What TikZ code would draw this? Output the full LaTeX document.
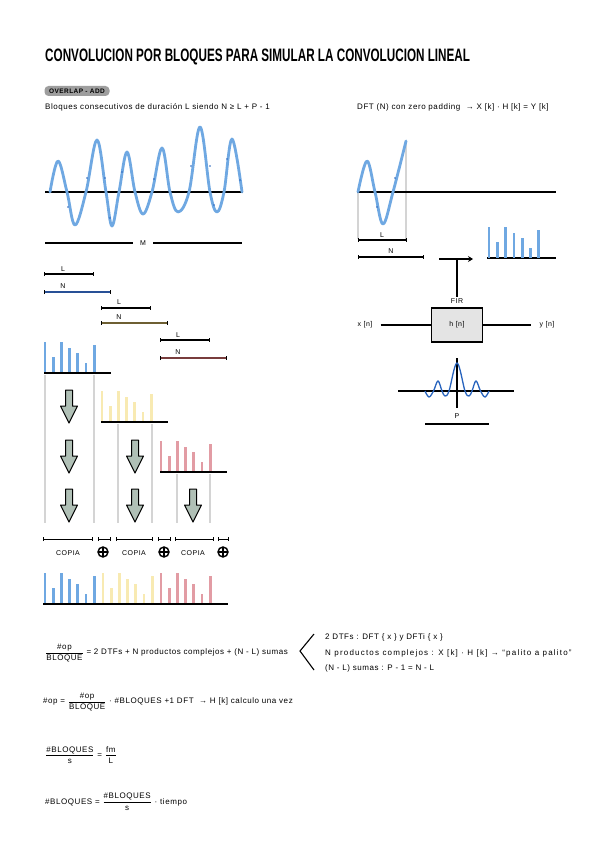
\documentclass[tikz,border=0pt]{standalone}
\usepackage{amsmath}
\usepackage{fontspec}
\setmainfont{Liberation Sans}[LetterSpace=7]
\newfontfamily\titulofont{Liberation Sans}
\usetikzlibrary{positioning, calc, arrows.meta}
\definecolor{azul}{RGB}{111,168,226}
\definecolor{azuloscuro}{RGB}{40,100,190}
\definecolor{amarillo}{RGB}{248,234,178}
\definecolor{rojo}{RGB}{226,156,164}
\definecolor{grisclaro}{RGB}{212,212,212}
\definecolor{flechacolor}{RGB}{176,192,182}
\definecolor{cajacolor}{RGB}{228,228,228}
\definecolor{pastilla}{RGB}{158,158,158}
\definecolor{tramoazul}{RGB}{40,80,150}
\definecolor{tramoocre}{RGB}{110,95,50}
\definecolor{tramorojo}{RGB}{120,60,60}
\newcommand{\fracc}[2]{$\displaystyle\frac{\hbox{#1}}{\hbox{#2}}$}

\begin{document}
\begin{tikzpicture}[
    x=1pt, y=-1pt,
    texto/.style={font=\fontsize{8}{9.5}\selectfont, inner sep=0pt},
    etiqueta/.style={font=\fontsize{7}{8}\selectfont, inner sep=0pt},
    eje/.style={line width=1.4pt},
    tramo/.style={arrows={Bar[width=4pt]-Bar[width=4pt]}, line width=1.1pt},
    tramoN/.style={tramo, postaction={draw=#1, -, shorten <=1pt, shorten >=1pt}},
    onda/.style={azul, line width=2.8pt, line cap=round, line join=round},
    muestra/.style={fill=azuloscuro, draw=none},
    guia/.style={grisclaro, line width=2.6pt},
    barra/.style={line width=2.8pt},
    flecha/.style={draw=black, line width=1pt, fill=flechacolor, line join=round},
    caja/.style={rectangle, draw, line width=1.5pt, fill=cajacolor, minimum width=51pt, minimum height=34pt, font=\fontsize{7}{8}\selectfont},
    suma/.style={circle, draw, line width=1.4pt, minimum size=10pt, inner sep=0pt,
        path picture={\draw[line width=1.2pt] (path picture bounding box.north) -- (path picture bounding box.south)
            (path picture bounding box.west) -- (path picture bounding box.east);}}
]
\useasboundingbox (0,0) rectangle (599,848);
\fill[white] (0,0) rectangle (599,848);

% Titulo
\node[anchor=base west, inner sep=0pt, font=\fontsize{18}{20}\titulofont\bfseries] (titulo) at (45,62)
    {\scalebox{0.65}[1]{CONVOLUCION POR BLOQUES PARA SIMULAR LA CONVOLUCION LINEAL}};
\node[fill=pastilla, rounded corners=4pt, minimum width=65pt, minimum height=10pt, inner sep=1pt,
    font=\fontsize{6.5}{7}\selectfont\bfseries] (metodo) at (77,91) {OVERLAP - ADD};
\node[texto, anchor=base west] (bloques) at (45,110) {Bloques consecutivos de duración L siendo N ≥ L + P - 1};
\node[texto, anchor=base west] (dft) at (357,110) {DFT (N) con zero padding \ → X [k] · H [k] = Y [k]};

% Senal completa
\draw[eje] (45,192) -- (243,192);
\draw[onda] plot[smooth, tension=0.6] coordinates {(50,192) (58,161) (67,192) (75,225) (86,192) (97,140)
    (106,192) (112,226) (119,192) (127,152) (135,192) (143,214) (152,192) (162,148) (170,192) (178,212)
    (189,192) (200,127) (210,192) (217,212) (224,192) (232,139) (242,192)};
\foreach \p in {(68,207), (87,178), (105,178), (110,218), (122,172), (154,179), (191,166), (210,166), (214,205), (227,159), (240,180)}
    \fill[muestra] \p circle (0.9);
\node[etiqueta] (M) at (143,243) {M};
\draw[line width=1.1pt] (45,243) -- ([xshift=-7pt]M.west);
\draw[line width=1.1pt] ([xshift=7pt]M.east) -- (242,243);

% Bloque con zero padding
\draw[guia] (358,192) -- (358,239);
\draw[guia] (406,141) -- (406,239);
\draw[eje] (357,192) -- (556,192);
\draw[onda] plot[smooth, tension=0.6] coordinates {(358,192) (367,161) (375,192) (383,224) (393,192) (406,141)};
\fill[muestra] (377,207) circle (0.9) (395,178) circle (0.9);
\draw[tramo] (358,240) -- (407,240);
\node[etiqueta] (Ld) at (382,235) {L};
\draw[tramo] (358,257) -- (424,257);
\node[etiqueta] (Nd) at (391,251) {N};

% Espectro
\draw[eje] (487,258) -- (556,258);
\foreach \h [count=\i from 0] in {31,16,31,25,20,10,28}
    \draw[barra, azul] (489+8.3*\i,258) -- ++(0,-\h);

% Filtro FIR
\node[caja] (fir) at (457,325) {h [n]};
\node[etiqueta, above=4pt of fir] (firlabel) {FIR};
\node[etiqueta] (xn) at (365,325) {x [n]};
\node[etiqueta] (yn) at (547,325) {y [n]};
\draw[line width=1.1pt] ([xshift=8pt]xn.east) -- (fir.west);
\draw[line width=1.1pt] (fir.east) -- ([xshift=-8pt]yn.west);
\coordinate (tI) at (439,259);
\coordinate (tD) at (473,259);
\draw[line width=1.3pt, -{Stealth[length=5pt, width=6pt]}] (tI) -- (tD);
\draw[line width=1.3pt] ([yshift=1pt]firlabel.north) -- (firlabel.north |- tI);

% Respuesta al impulso
\draw[eje] (398,391) -- (514,391);
\draw[eje] (457,358) -- (457,408);
\draw[azuloscuro, line width=1.3pt] plot[smooth, tension=0.6] coordinates {(425,391) (429,397) (433.5,391) (438,381)
    (442,391) (445,396) (449,391) (457,363) (465,391) (469,396) (472,391) (476,381) (480.5,391) (485,397) (489,391)};
\node[etiqueta] (P) at (457,416) {P};
\draw[line width=1.1pt] (425,424) -- (489,424);

% Tramos L y N de cada bloque
\draw[tramo] (44,274) -- (94,274);
\node[etiqueta] (L1) at (63,269) {L};
\draw[tramoN=tramoazul] (44,292) -- (111,292);
\node[etiqueta] (N1) at (63,286) {N};
\draw[tramo] (101,308) -- (151,308);
\node[etiqueta] (L2) at (119,302) {L};
\draw[tramoN=tramoocre] (101,323) -- (168,323);
\node[etiqueta] (N2) at (119,317) {N};
\draw[tramo] (160,340) -- (210,340);
\node[etiqueta] (L3) at (178,335) {L};
\draw[tramoN=tramorojo] (160,358) -- (227,358);
\node[etiqueta] (N3) at (178,352) {N};

% Guias de cada bloque
\foreach \x/\y in {45/375, 94/375, 118/424, 152/424, 177/474, 210/474}
    \draw[guia] (\x,\y) -- (\x,523);

% Muestras de cada bloque
\foreach \x/\y/\c in {45/373/azul, 102/422/amarillo, 161/472/rojo}{
    \foreach \h [count=\i from 0] in {31,16,31,25,20,10,28}
        \draw[barra, \c] (\x+8.2*\i,\y) -- ++(0,-\h);
    \draw[eje] (\x-1,\y) -- ++(67,0);
}

% Flechas hacia abajo
\foreach \x/\y in {69/390, 69/440, 69/489, 135/440, 135/489, 193/489}
    \draw[flecha] (\x-3.5,\y) -- (\x+3.5,\y) -- (\x+3.5,\y+16) -- (\x+8.5,\y+16) -- (\x,\y+33)
        -- (\x-8.5,\y+16) -- (\x-3.5,\y+16) -- cycle;

% Copia y suma
\foreach \a/\b in {43/93, 98/111, 116/153, 158/171, 175/214, 218/229}
    \draw[tramo, line width=0.9pt] (\a,539) -- (\b,539);
\node[etiqueta] (c1) at (68,553) {COPIA};
\node[etiqueta] (c2) at (134,553) {COPIA};
\node[etiqueta] (c3) at (193,553) {COPIA};
\node[suma] (s1) at (103,552) {};
\node[suma] (s2) at (164,552) {};
\node[suma] (s3) at (223,552) {};

% Salida
\foreach \x/\c in {45/azul, 103/amarillo, 161/rojo}
    \foreach \h [count=\i from 0] in {31,16,31,25,20,10,28}
        \draw[barra, \c] (\x+8.2*\i,604) -- ++(0,-\h);
\draw[eje] (43,604) -- (228,604);

% Cuentas
\node[texto, anchor=west] (op1) at (45,653) {\fracc{\#op}{BLOQUE} = 2 DTFs + N productos complejos + (N - L) sumas};
\coordinate (llA) at (314,634);
\coordinate (llV) at (300,651);
\coordinate (llB) at (314,670);
\draw[line width=1.1pt] (llA) -- (llV) -- (llB);
\node[texto, anchor=base west] (d1) at (325,639) {2 DTFs : DFT \{ x \} y DFTi \{ x \}};
\node[texto, anchor=base west] (d2) at (325,655) {\addfontfeature{LetterSpace=15}N productos complejos : X [k] · H [k] → ``palito a palito''};
\node[texto, anchor=base west] (d3) at (325,670) {(N - L) sumas : P - 1 = N - L};
\node[texto, anchor=west] (op2) at (43,702) {\#op = \fracc{\#op}{BLOQUE} · \#BLOQUES +1 DFT \ → H [k] calculo una vez};
\node[texto, anchor=west] (nb1) at (45,755) {\fracc{\#BLOQUES}{s} = \fracc{fm}{L}};
\node[texto, anchor=west] (nb2) at (45,802) {\#BLOQUES = \fracc{\#BLOQUES}{s} · tiempo};
\end{tikzpicture}
\end{document}
